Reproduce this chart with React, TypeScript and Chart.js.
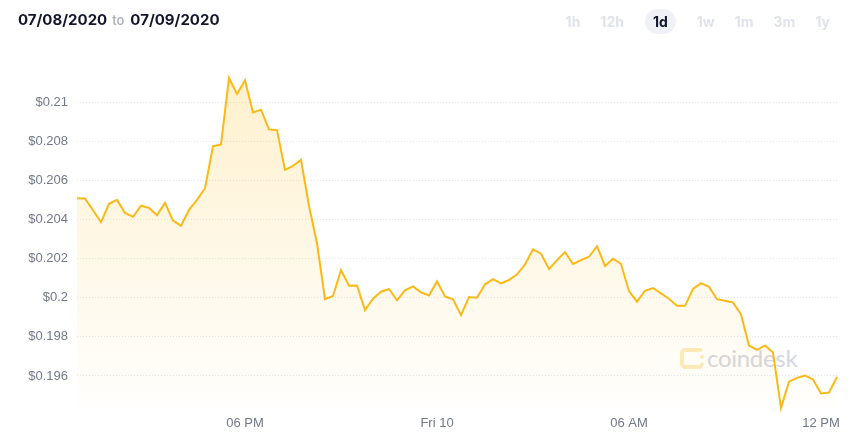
import React, { useEffect, useRef } from "react";
import { Chart, registerables } from "chart.js";

Chart.register(...registerables);

// ---- data ----
const PRICES = [
  0.2051, 0.20508, 0.20448, 0.20387, 0.20481, 0.20501, 0.20434, 0.20415, 0.20472, 0.2046,
  0.20423, 0.20486, 0.20395, 0.20369, 0.2045, 0.20501, 0.20561, 0.20776, 0.20785, 0.21125,
  0.21043, 0.21113, 0.20949, 0.20963, 0.20862, 0.20858, 0.20655, 0.20675, 0.20706, 0.2047,
  0.20279, 0.19993, 0.20009, 0.20142, 0.20062, 0.20063, 0.19937, 0.19995, 0.20031, 0.20045,
  0.19987, 0.20038, 0.20058, 0.20028, 0.20012, 0.20084, 0.20007, 0.19992, 0.19911, 0.20004,
  0.2, 0.20069, 0.20096, 0.20074, 0.20091, 0.2012, 0.20171, 0.20248, 0.20226, 0.20147,
  0.20193, 0.20234, 0.20173, 0.20193, 0.2021, 0.20264, 0.20163, 0.202, 0.20174, 0.20034,
  0.1998, 0.20036, 0.2005, 0.20023, 0.19995, 0.19959, 0.19959, 0.20046, 0.20075, 0.20056,
  0.19993, 0.19985, 0.19976, 0.19915, 0.19756, 0.19733, 0.19756, 0.1972, 0.19436, 0.19571,
  0.1959, 0.19602, 0.19582, 0.1951, 0.19515, 0.19595,
];
// time of first sample (hours since Thu 00:00) and sampling step (15 min)
const START_HOUR = 12.75;
const STEP_HOURS = 0.25;
const TIMES = PRICES.map((_, i) => START_HOUR + i * STEP_HOURS);

const Y_TICKS = [0.196, 0.198, 0.2, 0.202, 0.204, 0.206, 0.208, 0.21];
const X_TICKS = [18, 24, 30, 36];
const X_TICK_LABELS = ["06 PM", "Fri 10", "06 AM", "12 PM"];

const RANGE_FROM = "07/08/2020";
const RANGE_TO = "07/09/2020";
const PERIODS = ["1h", "12h", "1d", "1w", "1m", "3m", "1y"];
const ACTIVE_PERIOD = "1d";
const WATERMARK = "coindesk";

const LINE_COLOR = "#fbb917";
const TICK_COLOR = "#737889";
const TICK_FONT = "'Liberation Sans', Arial, sans-serif";

export default function App() {
  const canvasRef = useRef<HTMLCanvasElement | null>(null);

  useEffect(() => {
    const canvas = canvasRef.current;
    if (!canvas) return;
    const yMin = Math.min(...PRICES);
    const yMax = Math.max(...PRICES);
    const chart = new Chart(canvas, {
      type: "line",
      data: {
        datasets: [
          {
            data: PRICES.map((v, i) => ({ x: TIMES[i], y: v })),
            borderColor: LINE_COLOR,
            borderWidth: 2,
            pointRadius: 0,
            tension: 0,
            fill: "start",
            clip: false as any,
            backgroundColor: (ctx: any) => {
              const area = ctx.chart.chartArea;
              if (!area) return "rgba(252,190,30,0.15)";
              const g = ctx.chart.ctx.createLinearGradient(0, area.top, 0, area.bottom);
              g.addColorStop(0, "rgba(252,190,30,0.22)");
              g.addColorStop(1, "rgba(252,190,30,0.01)");
              return g;
            },
          },
        ],
      },
      options: {
        responsive: false,
        animation: false,
        devicePixelRatio: 1,
        layout: { padding: { top: 78, right: 20, left: 0, bottom: 0 } },
        plugins: { legend: { display: false }, tooltip: { enabled: false } },
        scales: {
          x: {
            type: "linear",
            min: TIMES[0],
            max: TIMES[TIMES.length - 1],
            grid: { display: false, drawTicks: false },
            border: { display: false },
            afterBuildTicks: (scale: any) => {
              scale.ticks = X_TICKS.map((v) => ({ value: v }));
            },
            afterFit: (scale: any) => {
              scale.height = 34;
            },
            ticks: {
              autoSkip: false,
              maxRotation: 0,
              minRotation: 0,
              padding: 8,
              color: TICK_COLOR,
              font: { family: TICK_FONT, size: 13 },
              callback: (_v: any, i: number) => X_TICK_LABELS[i],
            },
          },
          y: {
            type: "linear",
            min: yMin,
            max: yMax,
            grid: { color: "#e2e5ec", lineWidth: 1, drawTicks: false },
            border: { display: false, dash: [1, 2] },
            afterBuildTicks: (scale: any) => {
              scale.ticks = Y_TICKS.map((v) => ({ value: v }));
            },
            afterFit: (scale: any) => {
              scale.width = 77;
            },
            ticks: {
              padding: 9,
              color: TICK_COLOR,
              font: { family: TICK_FONT, size: 13 },
              callback: (v: any) => "$" + Number(Number(v).toFixed(3)),
            },
          },
        },
      },
    });
    return () => chart.destroy();
  }, []);

  return (
    <div
      style={{
        position: "absolute",
        left: 0,
        top: 0,
        width: 857,
        height: 442,
        background: "#fff",
        overflow: "hidden",
        fontFamily: "Inter, 'Noto Sans', sans-serif",
      }}
    >
      {/* watermark (under the chart) */}
      <div
        style={{
          position: "absolute",
          left: 680,
          top: 346,
          height: 24,
          display: "flex",
          alignItems: "center",
        }}
      >
        <div
          style={{
            width: 16,
            height: 13,
            border: "4px solid #fdebbf",
            borderRight: "4px dotted #fdebbf",
            borderRadius: 5,
            marginRight: 3,
          }}
        />
        <span
          style={{
            fontFamily: "Lato, sans-serif",
            fontSize: 24,
            lineHeight: "24px",
            color: "#d4d7df",
            letterSpacing: -0.3,
          }}
        >
          {WATERMARK}
        </span>
      </div>

      <canvas
        ref={canvasRef}
        width={857}
        height={442}
        style={{ position: "absolute", left: 0, top: 0, width: 857, height: 442 }}
      />

      {/* header: date range */}
      <div
        style={{
          position: "absolute",
          left: 18,
          top: 9,
          height: 20,
          display: "flex",
          alignItems: "center",
          fontWeight: 700,
          fontSize: 15,
          color: "#13152b",
          whiteSpace: "nowrap",
        }}
      >
        <span>{RANGE_FROM}</span>
        <span style={{ fontSize: 13, fontWeight: 500, color: "#a9adb9", margin: "2px 6px 0 5px" }}>to</span>
        <span>{RANGE_TO}</span>
      </div>

      {/* header: period selector */}
      <div
        style={{
          position: "absolute",
          right: 19,
          top: 9,
          height: 25,
          display: "flex",
          alignItems: "center",
          gap: 4,
        }}
      >
        {PERIODS.map((p) => {
          const active = p === ACTIVE_PERIOD;
          return (
            <span
              key={p}
              style={{
                height: 25,
                lineHeight: "25px",
                padding: "0 8px",
                margin: active ? "0 9px" : 0,
                borderRadius: 13,
                background: active ? "#eff1f6" : "transparent",
                color: active ? "#13152b" : "#e0e3eb",
                fontWeight: 700,
                fontSize: 14,
              }}
            >
              {p}
            </span>
          );
        })}
      </div>
    </div>
  );
}
